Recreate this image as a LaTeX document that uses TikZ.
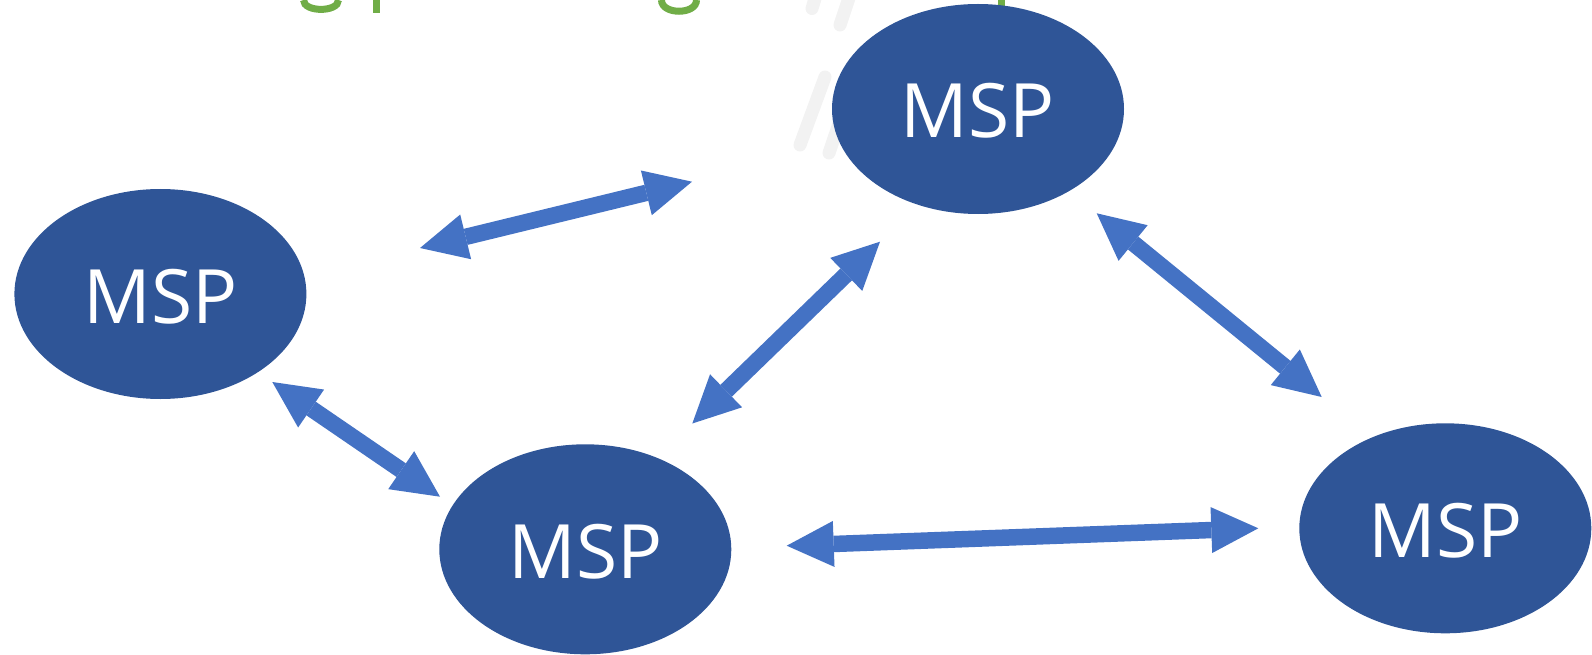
\documentclass[tikz,border=0pt]{standalone}
\usepackage{fontspec}
\setmainfont{Open Sans}
\usetikzlibrary{arrows.meta,shapes.geometric}
\definecolor{mspblue}{HTML}{2F5597}
\definecolor{linkblue}{HTML}{4472C4}
\definecolor{titlegreen}{HTML}{70AD47}
\definecolor{streak}{HTML}{F2F2F2}
\tikzset{
  msp/.style={ellipse, fill=mspblue, minimum width=292pt, minimum height=210pt,
    inner sep=0pt, text=white, font=\fontsize{75}{80}\selectfont,
    text height=58pt, text depth=0pt},
  link/.style={draw=linkblue, line width=16.5pt,
    {Triangle[length=47pt,width=46pt,line width=0pt]}-{Triangle[length=47pt,width=46pt,line width=0pt]}},
  streakline/.style={draw=streak, line width=13pt, line cap=round},
  greenink/.style={draw=titlegreen, line width=7pt},
}
\begin{document}
\begin{tikzpicture}[x=1pt, y=-1pt]
\useasboundingbox (0,0) rectangle (1592,655);
\clip (0,0) rectangle (1592,655);

% faint background streaks
\draw[streakline] (812,8.5) -- (817,-8);
\draw[streakline] (840,25) -- (851,-8);
\draw[streakline] (800,145) -- (825,77);
\draw[streakline] (829,153) -- (852,85);

% descenders of the heading above
\draw[greenink] (303.5,0) .. controls (303.5,12.5) and (338.5,12.5) .. (338.5,0);
\draw[greenink] (376,-2) -- (376,13);
\draw[greenink] (661.5,0) .. controls (661.5,15) and (696.5,15) .. (696.5,0);
\draw[greenink] (1001.5,-2) -- (1001.5,12.5);

% MSP nodes
\node[msp] (left)  at (160.4,294) {MSP};
\node[msp] (top)   at (978,109)   {MSP};
\node[msp] (mid)   at (585.3,549.3) {MSP};
\node[msp] (right) at (1445.3,528.3) {MSP};

% link end points
\coordinate (lt1) at (420,248);
\coordinate (lt2) at (692,181.7);
\coordinate (tm1) at (880,241.7);
\coordinate (tm2) at (692.3,423.5);
\coordinate (lm1) at (272.3,382);
\coordinate (lm2) at (440,496.7);
\coordinate (tr1) at (1096.7,213.3);
\coordinate (tr2) at (1321.7,397);
\coordinate (mr1) at (786.7,545.7);
\coordinate (mr2) at (1258.3,528.3);

% two-way links
\draw[link] (lt1) -- (lt2);
\draw[link] (tm1) -- (tm2);
\draw[link] (lm1) -- (lm2);
\draw[link] (tr1) -- (tr2);
\draw[link] (mr1) -- (mr2);
\end{tikzpicture}
\end{document}
